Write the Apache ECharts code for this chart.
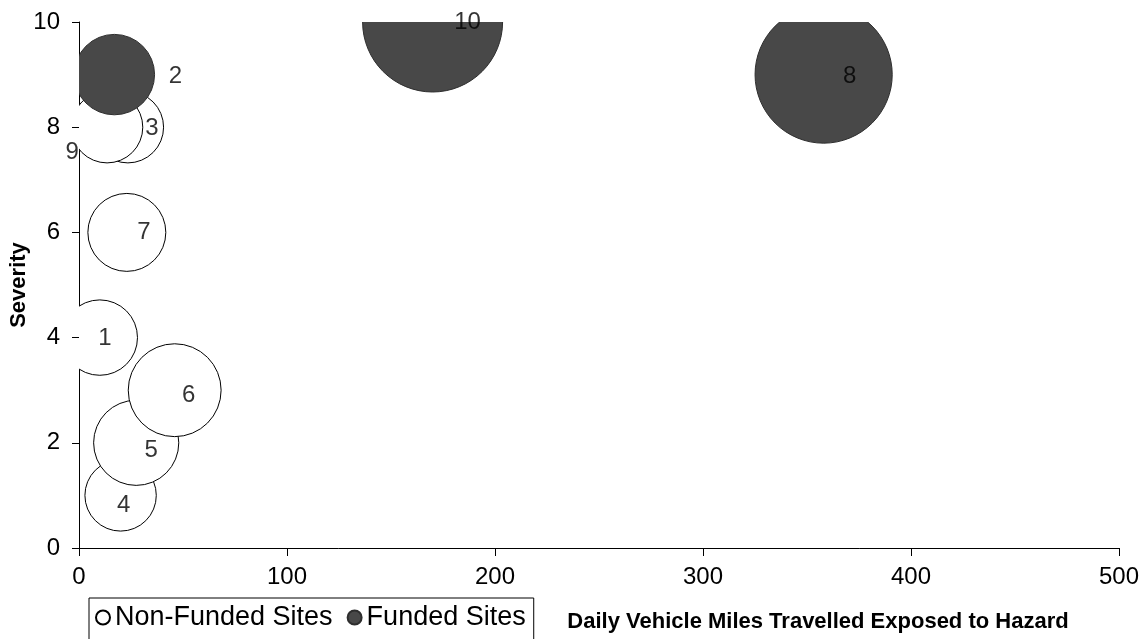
<!DOCTYPE html>
<html><head><meta charset="utf-8">
<script src="https://cdn.jsdelivr.net/npm/echarts@6/dist/echarts.min.js"></script>
<style>html,body{margin:0;padding:0;background:#fff}#c{width:1146px;height:639px}</style>
</head><body><div id="c"></div>
<script>
// ---- data ----
const nonFundedIds  = ['1', '3', '4', '5', '6', '7', '9'];
const nonFundedX    = [10, 23.5, 20, 27.5, 46, 23, 13.5];
const nonFundedY    = [4, 8, 1, 2, 3, 6, 8];
const nonFundedSize = [29, 26, 26, 37, 44, 31, 26];

const fundedIds  = ['2', '8', '10'];
const fundedX    = [17, 358, 170];
const fundedY    = [9, 9, 10];
const fundedSize = [33, 96, 100];

const xTicks = [0, 100, 200, 300, 400, 500];
const yTicks = [0, 2, 4, 6, 8, 10];

// ---- styling ----
const FONT = '"Liberation Sans", Arial, sans-serif';
const labelOffsets = {
  '1': [5, 1], '2': [61, 2], '3': [24, 1], '4': [3, 10], '5': [15, 8],
  '6': [14, 5], '7': [17, 0], '8': [26, 2], '9': [-35, 25], '10': [35, 0]
};
const MAX_DIAMETER = 140;
const bubbleRadius = s => MAX_DIAMETER * Math.sqrt(s / 100) / 2;

function rows(ids, xs, ys, ss) {
  return ids.map((id, i) => ({ name: id, value: [xs[i], ys[i], ss[i]] }));
}
const nonFundedData = rows(nonFundedIds, nonFundedX, nonFundedY, nonFundedSize);
const fundedData = rows(fundedIds, fundedX, fundedY, fundedSize);
const labelData = nonFundedData.concat(fundedData).map(d => ({
  name: d.name, value: d.value,
  label: { offset: labelOffsets[d.name] || [0, 0] }
}));

function bubbleRenderer(fill, stroke) {
  return function (params, api) {
    const c = api.coord([api.value(0), api.value(1)]);
    return {
      type: 'circle',
      shape: { cx: c[0], cy: c[1], r: bubbleRadius(api.value(2)) },
      style: { fill: fill, stroke: stroke, lineWidth: 1 }
    };
  };
}

const chart = echarts.init(document.getElementById('c'), null, { renderer: 'canvas' });
chart.setOption({
  animation: false,
  backgroundColor: '#fff',
  grid: { left: 79, right: 27, top: 22, bottom: 91, containLabel: false, outerBoundsMode: 'none' },
  xAxis: {
    type: 'value', min: xTicks[0], max: xTicks[xTicks.length - 1],
    interval: xTicks[1] - xTicks[0],
    axisLine: { show: true, lineStyle: { color: '#000', width: 1 } },
    axisTick: { show: true, length: 8, lineStyle: { color: '#000' } },
    axisLabel: { margin: 17, color: '#000', fontSize: 24, fontFamily: FONT },
    splitLine: { show: false },
    name: 'Daily Vehicle Miles Travelled Exposed to Hazard',
    nameLocation: 'middle', nameGap: 63,
    nameTextStyle: { color: '#000', fontSize: 22, fontWeight: 'bold', fontFamily: FONT, padding: [0, 0, 0, 438] }
  },
  yAxis: {
    type: 'value', min: yTicks[0], max: yTicks[yTicks.length - 1],
    interval: yTicks[1] - yTicks[0],
    axisLine: { show: true, lineStyle: { color: '#000', width: 1 } },
    axisTick: { show: true, length: 7, lineStyle: { color: '#000' } },
    axisLabel: { margin: 19, color: '#000', fontSize: 24, fontFamily: FONT },
    splitLine: { show: false },
    name: 'Severity', nameLocation: 'middle', nameGap: 49, nameRotate: 90,
    nameMoveOverlap: false,
    nameTextStyle: { color: '#000', fontSize: 22, fontWeight: 'bold', fontFamily: FONT }
  },
  legend: {
    data: ['Non-Funded Sites', 'Funded Sites'],
    left: 89, top: 598, orient: 'horizontal',
    borderColor: '#000', borderWidth: 1, borderRadius: 0,
    padding: [6, 8, 14, 6], itemGap: 14, itemWidth: 14, itemHeight: 14,
    icon: 'circle',
    textStyle: { color: '#000', fontSize: 27, fontFamily: FONT }
  },
  series: [
    {
      name: 'Non-Funded Sites', type: 'custom', clip: true, z: 2,
      itemStyle: { color: '#fff', borderColor: '#000', borderWidth: 1 },
      renderItem: bubbleRenderer('#fff', '#000'),
      encode: { x: 0, y: 1 },
      data: nonFundedData
    },
    {
      name: 'Funded Sites', type: 'custom', clip: true, z: 3,
      itemStyle: { color: '#484848', borderColor: '#2e2e2e', borderWidth: 1 },
      renderItem: bubbleRenderer('#484848', '#2e2e2e'),
      encode: { x: 0, y: 1 },
      data: fundedData
    },
    {
      name: 'labels', type: 'scatter', clip: false, z: 5, silent: true,
      symbolSize: 1,
      itemStyle: { color: 'rgba(0,0,0,0)' },
      label: {
        show: true, position: 'inside', formatter: p => p.name,
        color: '#000', fontSize: 24, fontFamily: FONT
      },
      data: labelData
    }
  ]
});
</script></body></html>
